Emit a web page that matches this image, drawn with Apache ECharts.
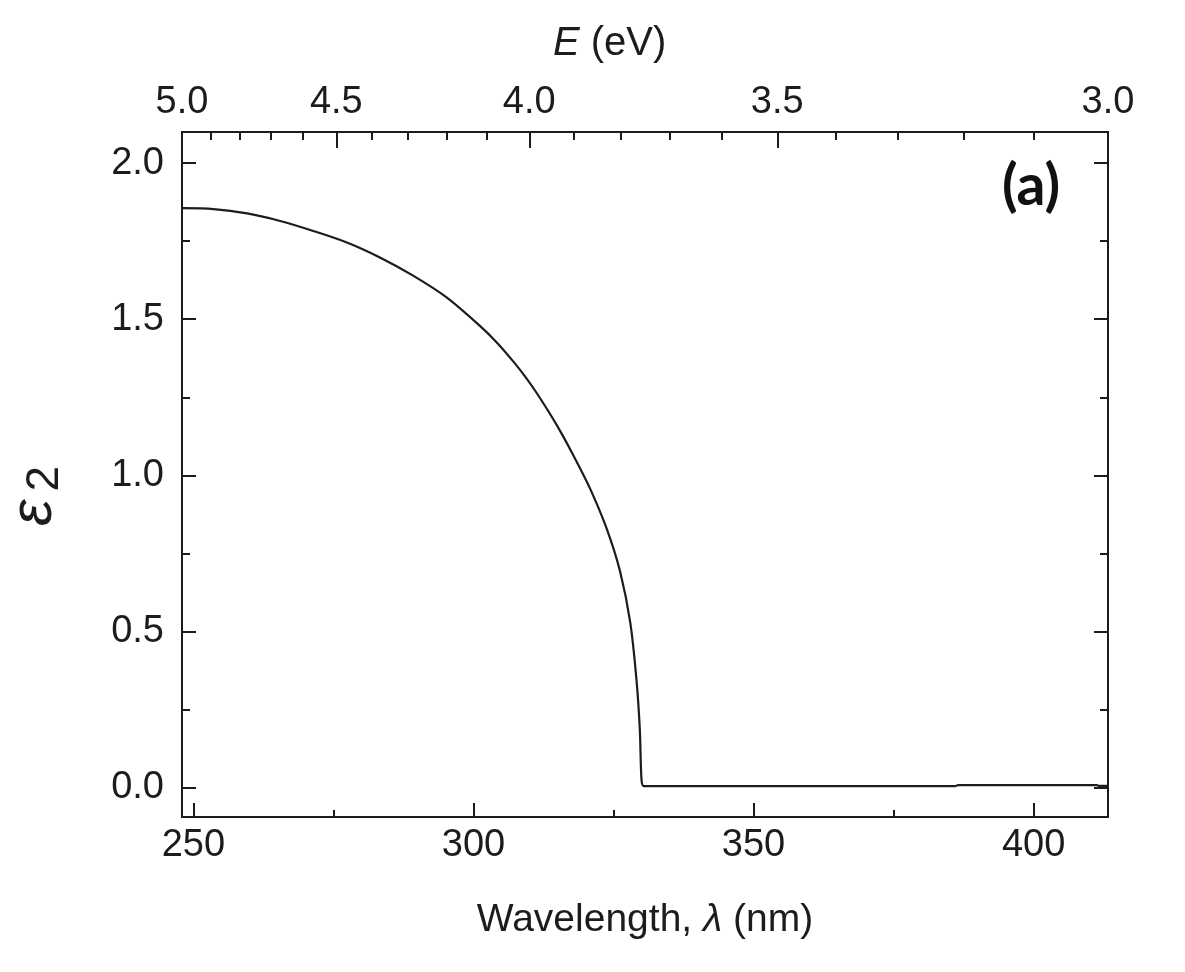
<!DOCTYPE html>
<html><head><meta charset="utf-8">
<script src="https://cdn.jsdelivr.net/npm/echarts@6/dist/echarts.min.js"></script>
<style>html,body{margin:0;padding:0;background:#fff}#c{width:1185px;height:972px}</style>
</head><body><div id="c"></div>
<script>
// ---- data ----
const wavelength = [247.97, 253.6, 259.6, 265.5, 271.4, 277.4, 283.3, 289.3, 295.2, 301.2, 304.2, 307.1, 309.5, 311.5, 314.9, 317.8, 320.8, 323.8, 326.2, 328.0, 329.1, 329.7, 330.0, 330.4, 340, 360, 386.0, 386.5, 400, 411.3, 411.6, 413.28];
const eps2       = [1.856, 1.853, 1.839, 1.815, 1.783, 1.746, 1.698, 1.639, 1.570, 1.478, 1.425, 1.365, 1.310, 1.258, 1.160, 1.065, 0.958, 0.828, 0.690, 0.527, 0.345, 0.185, 0.025, 0.004, 0.004, 0.004, 0.004, 0.007, 0.007, 0.007, 0.005, 0.005];
const xMajorTicks = [250, 300, 350, 400];
const xMinorTicks = [275, 325, 375];
const eMajorTicks = [5.0, 4.5, 4.0, 3.5, 3.0];
const eMinorTicks = [4.9, 4.8, 4.7, 4.6, 4.4, 4.3, 4.2, 4.1, 3.9, 3.8, 3.7, 3.6, 3.4, 3.3, 3.2, 3.1];
const yMajorTicks = [0.0, 0.5, 1.0, 1.5, 2.0];
const yMinorTicks = [0.25, 0.75, 1.25, 1.75];
const HC = 1239.84; // eV·nm
const X_MIN = HC / 5.0, X_MAX = HC / 3.0;
const Y_MIN = -0.095, Y_MAX = 2.1;

const FONT = '"Liberation Sans", Arial, sans-serif';
const INK = '#1c1c1c';
const FS = 38;

function lineStyle() { return { show: true, onZero: false, lineStyle: { color: INK, width: 2 } }; }

function xAxis(position, tickVals, len, labelVals, fmt) {
  return {
    type: 'value', position: position, min: X_MIN, max: X_MAX,
    axisLine: lineStyle(),
    splitLine: { show: false },
    axisTick: { show: true, inside: true, length: len, customValues: tickVals, lineStyle: { color: INK, width: 2 } },
    axisLabel: labelVals ? { show: true, customValues: labelVals, formatter: fmt, color: INK, fontFamily: FONT, fontSize: FS, margin: 10, showMinLabel: true, showMaxLabel: true } : { show: false }
  };
}
function yAxis(position, tickVals, len, labelVals) {
  return {
    type: 'value', position: position, min: Y_MIN, max: Y_MAX,
    axisLine: lineStyle(),
    splitLine: { show: false },
    axisTick: { show: true, inside: true, length: len, customValues: tickVals, lineStyle: { color: INK, width: 2 } },
    axisLabel: labelVals ? { show: true, customValues: labelVals, formatter: v => v.toFixed(1), color: INK, fontFamily: FONT, fontSize: FS, margin: 18 } : { show: false }
  };
}

const eMajorW = eMajorTicks.map(e => HC / e);
const eMinorW = eMinorTicks.map(e => HC / e);

const bottomMain = xAxis('bottom', xMajorTicks, 14, xMajorTicks, v => String(Math.round(v)));
bottomMain.name = '{t|Wavelength, }{i|λ}{t| (nm)}';
bottomMain.nameLocation = 'middle';
bottomMain.nameGap = 84;
bottomMain.nameTextStyle = { rich: { t: { fontFamily: FONT, fontSize: 39, color: INK }, i: { fontFamily: FONT, fontSize: 39, color: INK, fontStyle: 'italic' } } };

const option = {
  backgroundColor: '#fff',
  animation: false,
  grid: { left: 182, right: 77, top: 132, bottom: 155, containLabel: false },
  xAxis: [
    bottomMain,
    xAxis('bottom', xMinorTicks, 7, null),
    xAxis('top', eMajorW, 16, eMajorW, v => (HC / v).toFixed(1)),
    xAxis('top', eMinorW, 8, null)
  ],
  yAxis: [
    yAxis('left', yMajorTicks, 14, yMajorTicks),
    yAxis('left', yMinorTicks, 8, null),
    yAxis('right', yMajorTicks, 14, null),
    yAxis('right', yMinorTicks, 8, null)
  ],
  series: [{
    type: 'line', xAxisIndex: 0, yAxisIndex: 0,
    data: wavelength.map((w, i) => [w, eps2[i]]),
    showSymbol: false, smooth: 0.3,
    lineStyle: { color: INK, width: 2.2 }
  }],
  graphic: [
    { type: 'text', left: 553, top: 24, style: { rich: { i: { fontFamily: FONT, fontSize: 40, fontStyle: 'italic', fill: INK }, t: { fontFamily: FONT, fontSize: 40, fill: INK } }, text: '{i|E}{t| (eV)}' } },
    { type: 'text', x: 34, y: 466, rotation: Math.PI / 2, style: { rich: { e: { fontFamily: FONT, fontSize: 60, fontStyle: 'italic', fill: INK }, s: { fontFamily: FONT, fontSize: 46, fill: INK, padding: [22, 0, 0, 8] } }, text: '{e|ε}{s|2}', align: 'right', verticalAlign: 'middle' } },
    { type: 'text', left: 1002, top: 158, style: { text: '(a)', fontFamily: 'Lato, "Open Sans", sans-serif', fontWeight: 'bold', fontSize: 57, fill: '#111' } }
  ]
};
const chart = echarts.init(document.getElementById('c'), null, { renderer: 'canvas' });
chart.setOption(option);
</script>
</body></html>
